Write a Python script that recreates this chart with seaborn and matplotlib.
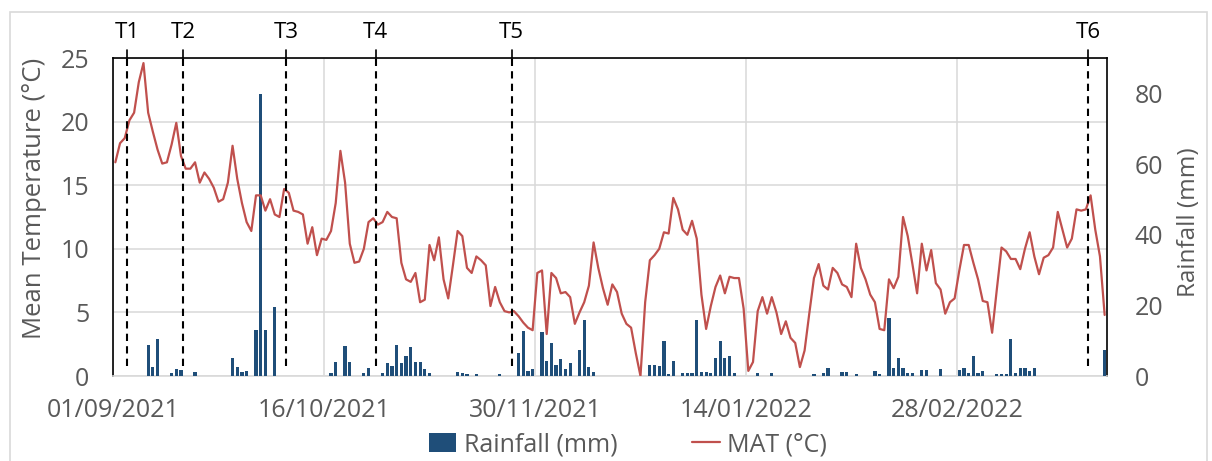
import numpy as np
import pandas as pd
import matplotlib
matplotlib.use("Agg")
import matplotlib.pyplot as plt
import matplotlib.dates as mdates
import matplotlib.transforms as mtransforms
from matplotlib.patches import Rectangle, Patch
from matplotlib.lines import Line2D
from matplotlib.ticker import FixedLocator
import seaborn as sns

# ---- daily mean air temperature (°C), 1 Sep 2021 .. 31 Mar 2022 ----
mat_sep = [16.8, 18.3, 18.7, 20.1, 20.7, 23.1, 24.6, 20.7, 19.2, 17.8,
           16.7, 16.8, 18.2, 19.9, 17.3, 16.3, 16.3, 16.8, 15.2, 16.0,
           15.5, 14.8, 13.7, 13.9, 15.2, 18.1, 15.5, 13.6, 12.1, 11.4]
mat_oct = [14.2, 14.2, 13.0, 13.9, 12.7, 12.5, 14.7, 14.4, 13.0, 12.9,
           12.7, 10.4, 11.7, 9.5, 10.8, 10.7, 11.4, 13.6, 17.7, 15.2,
           10.4, 8.9, 9.0, 10.0, 12.1, 12.4, 11.9, 12.1, 12.9, 12.5, 12.4]
mat_nov = [8.9, 7.6, 7.4, 8.1, 5.8, 6.0, 10.3, 9.1, 10.9, 7.6,
           6.1, 8.7, 11.4, 11.0, 8.5, 8.1, 9.4, 9.1, 8.7, 5.5,
           7.0, 5.8, 5.1, 5.0, 5.1, 4.7, 4.2, 3.8, 3.6, 8.1]
mat_dec = [8.3, 3.3, 8.1, 7.7, 6.5, 6.6, 6.2, 4.1, 5.0, 5.8,
           7.1, 10.5, 8.5, 6.9, 5.6, 7.2, 6.6, 4.9, 4.1, 3.8,
           1.8, 0.0, 5.8, 9.1, 9.5, 10.0, 11.3, 11.2, 14.0, 13.1, 11.5]
mat_jan = [11.1, 12.2, 10.8, 6.4, 3.7, 5.5, 7.0, 7.9, 6.5, 7.8,
           7.7, 7.7, 5.3, 0.4, 1.1, 5.1, 6.2, 4.9, 6.2, 5.0,
           3.3, 4.3, 3.0, 2.6, 0.7, 2.0, 4.9, 7.7, 8.8, 7.1, 6.8]
mat_feb = [8.5, 8.1, 7.2, 7.0, 6.2, 10.4, 8.5, 7.6, 6.4, 5.8,
           3.7, 3.6, 7.6, 6.9, 7.8, 12.5, 11.0, 8.8, 6.5, 10.4,
           8.3, 9.9, 7.3, 6.8, 4.9, 5.8, 6.1, 8.3]
mat_mar = [10.3, 10.3, 8.9, 7.6, 5.9, 5.8, 3.4, 6.8, 10.1, 9.8,
           9.2, 9.2, 8.4, 10.0, 11.3, 9.4, 8.0, 9.3, 9.5, 10.1,
           12.9, 11.5, 10.1, 10.8, 13.1, 13.0, 13.1, 14.2, 11.5, 9.4, 4.8]

# ---- daily rainfall (mm) ----
rain_sep = [0, 0, 0, 0, 0, 0, 0, 8.9, 2.5, 10.6,
            0, 0, 0.8, 2.1, 1.7, 0, 0, 1.1, 0, 0,
            0, 0, 0, 0, 0, 5.2, 2.6, 1.1, 1.4, 0]
rain_oct = [13.0, 79.8, 13.1, 0, 19.5, 0, 0, 0, 0, 0,
            0, 0, 0, 0, 0, 0, 0.8, 3.9, 0, 8.6,
            3.9, 0, 0, 0.9, 2.2, 0, 0, 0.8, 3.6, 2.8, 8.9]
rain_nov = [3.8, 5.8, 8.2, 4.0, 3.9, 1.9, 0.8, 0, 0, 0,
            0, 0, 1.1, 0.8, 0.5, 0, 0.5, 0, 0, 0,
            0, 0.5, 0, 0, 0, 6.6, 12.7, 1.4, 2.1, 0]
rain_dec = [12.4, 4.2, 9.4, 3.0, 4.7, 1.9, 3.6, 0, 7.3, 15.8,
            2.5, 1.1, 0, 0, 0, 0, 0, 0, 0, 0,
            0, 0, 0, 3.0, 3.0, 2.8, 9.9, 0.7, 4.2, 0, 0.8]
rain_jan = [0.8, 0.9, 15.8, 1.2, 1.2, 0.8, 5.0, 10.0, 5.2, 5.6,
            0.9, 0, 0, 0, 0, 0.8, 0, 0, 0.9, 0,
            0, 0, 0, 0, 0, 0, 0, 0.5, 0, 0.9, 2.3]
rain_feb = [0, 0, 1.2, 1.2, 0, 0.5, 0, 0, 0, 1.4,
            0.7, 0, 16.4, 2.2, 5.0, 2.3, 0.8, 0.9, 0, 1.6,
            1.7, 0, 0, 1.9, 0, 0, 0, 1.7]
rain_mar = [2.3, 0.9, 5.6, 0.9, 1.4, 0, 0, 0.5, 0.5, 0.5,
            10.6, 0.9, 2.2, 2.3, 1.4, 2.3, 0, 0, 0, 0,
            0, 0, 0, 0, 0, 0, 0, 0, 0, 0, 7.3]

# sampling dates / axis labels
first_day = "2021-09-01"
last_edge = "2022-04-01"
tick_dates = ["2021-09-01", "2021-10-16", "2021-11-30", "2022-01-14", "2022-02-28"]
event_names = ["T1", "T2", "T3", "T4", "T5", "T6"]
event_dates = ["2021-09-04", "2021-09-16", "2021-10-08", "2021-10-27",
               "2021-11-25", "2022-03-28"]

mat = mat_sep + mat_oct + mat_nov + mat_dec + mat_jan + mat_feb + mat_mar
rain = rain_sep + rain_oct + rain_nov + rain_dec + rain_jan + rain_feb + rain_mar

# each daily value sits in the middle of its day slot
dates = pd.date_range(first_day, periods=len(mat), freq="D") + pd.Timedelta(hours=12)
df = pd.DataFrame({"date": dates, "MAT": mat, "Rainfall": rain})

sns.set_theme(style="white")
plt.rcParams["font.family"] = ["Open Sans", "DejaVu Sans"]

GREY_TXT = "#595959"
GRID = "#D9D9D9"
BAR = "#1F4E79"
LINE = "#C0504D"
FS = 18

fig = plt.figure(figsize=(12.12, 4.61), dpi=100)
ax = fig.add_axes([113 / 1212, 1 - 376 / 461, 994 / 1212, 318 / 461])
rain_ax = ax.twinx()
line_ax = ax.twinx()

# outer chart border
fig.patches.append(Rectangle((10 / 1212, -0.05), 1197 / 1212, 1.05 - 12 / 461,
                             transform=fig.transFigure, fill=False,
                             edgecolor=GRID, linewidth=1.2))

x_lo, x_hi = pd.Timestamp(first_day), pd.Timestamp(last_edge)

# temperature axis: grid + frame + labels
ax.set_xlim(x_lo, x_hi)
ax.set_ylim(0, 25)
ax.set_yticks([0, 5, 10, 15, 20, 25])
ax.xaxis.set_major_locator(FixedLocator(mdates.date2num(pd.to_datetime(tick_dates))))
ax.xaxis.set_major_formatter(mdates.DateFormatter("%d/%m/%Y"))
ax.xaxis.set_minor_locator(mdates.MonthLocator())
ax.grid(True, which="major", color=GRID, linewidth=1.1)
ax.tick_params(axis="y", length=0, pad=17, labelsize=FS, labelcolor=GREY_TXT)
ax.tick_params(axis="x", which="both", length=5, width=1, color="#BFBFBF",
               direction="out", pad=11, labelsize=FS, labelcolor=GREY_TXT)
ax.tick_params(axis="x", which="minor", length=4)
for side in ("left", "top", "right"):
    ax.spines[side].set_color("black")
    ax.spines[side].set_linewidth(1.2)
ax.spines["bottom"].set_color(GRID)
ax.spines["bottom"].set_linewidth(1.2)

# rainfall bars on the secondary axis
rain_ax.bar(df["date"], df["Rainfall"], width=0.68, color=BAR, linewidth=0)
rain_ax.set_ylim(0, 90)
rain_ax.set_yticks([0, 20, 40, 60, 80])
rain_ax.tick_params(axis="y", length=0, pad=20, labelsize=FS, labelcolor=GREY_TXT)
for side in rain_ax.spines.values():
    side.set_visible(False)

# temperature line on top of the bars
sns.lineplot(data=df, x="date", y="MAT", ax=line_ax, color=LINE, linewidth=1.6)
line_ax.set_ylim(0, 25)
line_ax.set_xlim(x_lo, x_hi)
line_ax.set_yticks([])
line_ax.set_ylabel("")
line_ax.set_xlabel("")
for side in line_ax.spines.values():
    side.set_visible(False)
ax.set_xlabel("")
ax.set_ylabel("")

# sampling events: dashed markers with labels above the frame
trans = mtransforms.blended_transform_factory(ax.transData, ax.transAxes)
for name, d in zip(event_names, event_dates):
    xd = mdates.date2num(pd.Timestamp(d))
    line_ax.axvline(xd, ymin=0.03, ymax=1.0, color="black", linewidth=1.5,
                    linestyle=(0, (3.5, 2.5)), zorder=5)
    ax.plot([xd, xd], [1.0, 1.025], transform=trans, color="black",
            linewidth=1.2, clip_on=False)
    ax.text(xd, 1.08, name, transform=trans, ha="center", va="center",
            fontsize=16, color="black")

# axis titles
fig.text(35 / 1212, 1 - 198 / 461, "Mean Temperature (°C)", rotation=90,
         ha="center", va="center", fontsize=18.5, color=GREY_TXT)
fig.text(1189 / 1212, 1 - 222 / 461, "Rainfall (mm)", rotation=90,
         ha="center", va="center", fontsize=17.5, color=GREY_TXT)

# legend
handles = [Patch(facecolor=BAR, edgecolor="none", label="Rainfall (mm)"),
           Line2D([0], [0], color=LINE, linewidth=1.6, label="MAT (°C)")]
fig.legend(handles=handles, loc="center", ncol=2, frameon=False,
           bbox_to_anchor=(628 / 1212, 1 - 445 / 461), fontsize=FS,
           labelcolor=GREY_TXT, handlelength=1.1, handleheight=0.8,
           columnspacing=3.0, handletextpad=0.3, borderpad=0.1)

fig.savefig("out.png", dpi=100)
